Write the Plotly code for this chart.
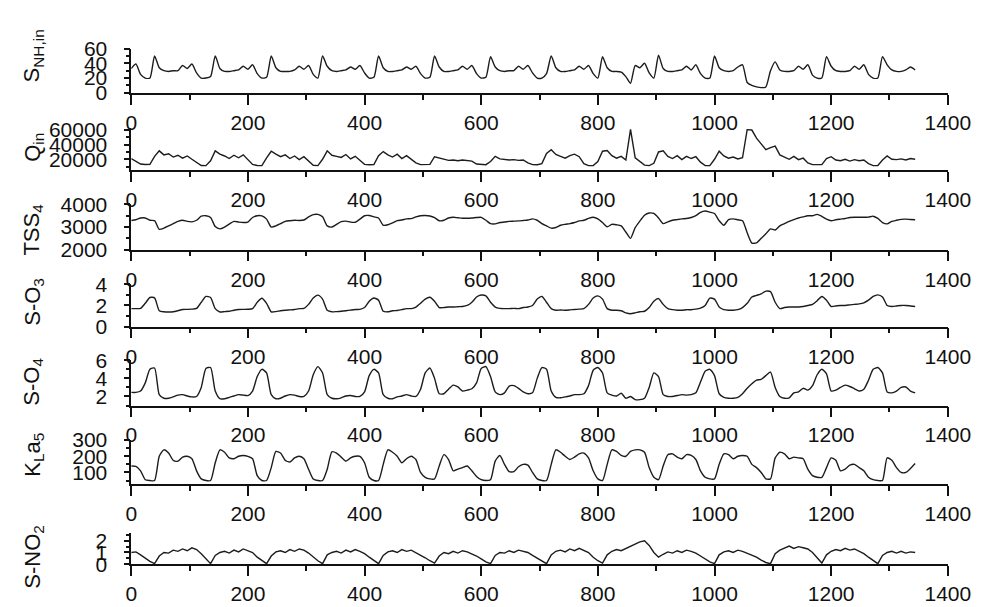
import plotly.graph_objects as go

# Sample times (one reading every 8 time steps, 0 .. 1344)
T = list(range(0, 1345, 8))

# Influent ammonium S_NH,in
S_NH = [
    33, 39, 25, 20, 20, 50, 34, 30, 29, 30, 30, 37,
    33, 39, 27, 20, 20, 22, 50, 33, 29, 29, 30, 31,
    36, 32, 38, 26, 20, 21, 50, 34, 29, 29, 29, 31,
    36, 32, 37, 25, 20, 50, 36, 30, 29, 30, 31, 35,
    32, 37, 27, 20, 21, 50, 34, 29, 29, 30, 31, 35,
    32, 36, 26, 20, 21, 50, 35, 29, 29, 30, 31, 36,
    32, 37, 26, 20, 21, 49, 35, 30, 29, 30, 30, 36,
    32, 37, 27, 20, 20, 26, 50, 34, 29, 29, 30, 31,
    36, 32, 37, 26, 20, 49, 34, 29, 29, 28, 22, 13,
    37, 34, 40, 27, 20, 51, 33, 29, 29, 30, 31, 36,
    31, 38, 26, 20, 20, 50, 34, 30, 29, 30, 35, 38,
    14, 10, 8, 7, 8, 30, 42, 31, 29, 29, 30, 36,
    32, 38, 24, 20, 20, 49, 36, 30, 29, 29, 30, 36,
    32, 38, 25, 20, 20, 49, 38, 31, 29, 29, 31, 35,
    31,
]

# Influent flow Q_in
Q_IN = [
    21000, 17000, 13500, 12800, 13000, 24000, 31500, 26000, 27500, 23000, 25500, 21500,
    24500, 20000, 16000, 11500, 11300, 18000, 31500, 27000, 24500, 21000, 25500, 22000,
    26000, 19000, 13000, 11500, 11300, 22000, 31000, 27000, 23500, 26000, 21000, 24500,
    19500, 23500, 17000, 11800, 11300, 20000, 31500, 25500, 24000, 22500, 26500, 20500,
    24000, 19000, 13000, 12500, 12600, 25000, 30500, 26000, 23000, 27000, 21000, 25000,
    20000, 15000, 12600, 12500, 13000, 23500, 22000, 19500, 18500, 19000, 18000, 19000,
    18500, 17500, 13500, 12600, 12600, 17000, 24000, 20500, 19500, 19000, 19500, 18500,
    19000, 15000, 12600, 12500, 14000, 28000, 33000, 26500, 24000, 21500, 25000, 27000,
    23500, 14000, 11300, 11500, 17000, 31000, 32000, 25000, 21500, 24000, 19000, 61000,
    22000, 16500, 12000, 11300, 14500, 30000, 31500, 24000, 21000, 25000, 19500, 24000,
    21000, 23500, 16000, 11500, 11300, 20000, 31000, 24500, 21500, 23000, 20500, 22000,
    60500, 60000, 49000, 41000, 33000, 36000, 38000, 26000, 23000, 20000, 24000, 19500,
    21500, 15000, 12600, 12500, 12700, 21000, 23500, 19000, 18000, 20000, 17500, 19500,
    18000, 19000, 14000, 11300, 11500, 19000, 24500, 20000, 19500, 20500, 19000, 21000,
    20000,
]

# Suspended solids in tank 4
TSS4 = [
    3290, 3320, 3400, 3400, 3300, 3280, 2900, 2950, 3050, 3150, 3250, 3300,
    3250, 3230, 3300, 3480, 3500, 3420, 3020, 2920, 3000, 3130, 3250, 3220,
    3200, 3220, 3420, 3500, 3490, 3350, 3000, 3050, 3150, 3250, 3280, 3300,
    3290, 3310, 3450, 3550, 3560, 3450, 3050, 3000, 3120, 3240, 3260, 3220,
    3210, 3350, 3500, 3510, 3450, 3400, 3080, 3100, 3180, 3280, 3310, 3360,
    3370, 3450, 3500, 3510, 3490, 3420, 3280, 3300, 3400, 3430, 3410, 3390,
    3390, 3400, 3420, 3430, 3300, 3150, 3140, 3200, 3220, 3250, 3260, 3270,
    3290, 3310, 3360, 3300, 3150, 3050, 2950, 2980, 3080, 3120, 3150, 3200,
    3270, 3300, 3380, 3430, 3360, 3200, 3010, 3120, 3100, 3050, 2780, 2500,
    2970, 3260, 3520, 3620, 3600, 3400, 3150, 3230, 3300, 3330, 3360, 3380,
    3420, 3500, 3650, 3710, 3660, 3600, 3280, 3080, 3330, 3360, 3320, 3280,
    2750, 2290, 2300, 2500, 2700, 2920, 2870, 3050, 3150, 3250, 3330, 3400,
    3450, 3500, 3500, 3560, 3470, 3350, 3280, 3320, 3350, 3380, 3420, 3430,
    3430, 3430, 3440, 3480, 3380, 3200, 3140, 3250, 3300, 3340, 3350, 3330,
    3320,
]

# Dissolved oxygen in tank 3
S_O3 = [
    1.70, 1.70, 1.72, 2.20, 2.75, 2.72, 1.50, 1.40, 1.38, 1.40, 1.50, 1.62,
    1.63, 1.65, 1.72, 2.30, 2.85, 2.75, 1.70, 1.38, 1.42, 1.45, 1.55, 1.62,
    1.63, 1.64, 1.70, 2.30, 2.68, 2.20, 1.40, 1.42, 1.50, 1.55, 1.58, 1.62,
    1.70, 1.72, 2.10, 2.70, 2.97, 2.60, 1.55, 1.40, 1.42, 1.45, 1.50, 1.56,
    1.62, 1.63, 1.80, 2.40, 2.70, 2.50, 1.45, 1.40, 1.50, 1.52, 1.60, 1.70,
    1.70, 1.85, 2.20, 2.60, 2.77, 2.40, 1.80, 1.80, 1.85, 1.85, 1.88, 1.90,
    2.00, 2.30, 2.80, 2.98, 2.90, 2.30, 1.85, 1.72, 1.70, 1.70, 1.72, 1.70,
    1.80, 1.85, 2.00, 2.60, 2.85, 2.30, 1.70, 1.55, 1.57, 1.55, 1.58, 1.62,
    1.65, 1.70, 2.10, 2.70, 2.90, 2.60, 1.70, 1.55, 1.55, 1.50, 1.30, 1.22,
    1.30, 1.40, 1.45, 1.80, 2.40, 2.65, 2.10, 1.70, 1.60, 1.55, 1.55, 1.60,
    1.60, 1.65, 1.75, 2.00, 2.70, 2.60, 1.85, 1.60, 1.55, 1.55, 1.60, 1.80,
    2.20, 2.80, 2.95, 3.10, 3.35, 3.30, 2.30, 1.70, 1.80, 1.85, 1.85, 1.85,
    1.90, 2.00, 2.10, 2.45, 2.85, 2.50, 1.90, 1.95, 2.00, 2.00, 2.05, 2.10,
    2.15, 2.25, 2.50, 2.85, 3.00, 2.80, 2.00, 1.90, 1.95, 2.00, 2.00, 1.95,
    1.90,
]

# Dissolved oxygen in tank 4
S_O4 = [
    2.45, 2.45, 2.60, 3.50, 5.00, 5.15, 2.20, 1.80, 1.80, 1.95, 2.15, 2.20,
    2.05, 1.95, 2.00, 3.00, 5.10, 5.20, 2.60, 1.75, 1.75, 1.90, 2.05, 2.20,
    2.15, 2.10, 2.60, 4.20, 5.00, 4.60, 2.20, 1.75, 1.80, 2.05, 2.20, 2.15,
    2.00, 2.00, 2.60, 4.40, 5.30, 4.60, 2.20, 1.80, 1.75, 1.85, 2.05, 2.10,
    2.00, 2.00, 2.50, 4.30, 5.00, 4.60, 2.20, 1.80, 1.75, 1.95, 2.05, 2.20,
    2.05, 2.00, 2.80, 4.60, 5.15, 4.00, 2.30, 2.30, 2.80, 3.25, 3.05, 2.60,
    2.70, 2.85, 3.50, 5.10, 5.30, 4.20, 2.50, 2.20, 2.40, 3.15, 3.20, 2.90,
    2.50, 2.30, 2.40, 4.00, 5.20, 5.00, 2.60, 1.90, 1.85, 1.95, 2.05, 2.20,
    2.20, 2.30, 3.20, 4.90, 5.20, 4.60, 2.40, 2.15, 2.05, 2.35, 1.80, 2.00,
    1.65, 1.65, 1.80, 3.00, 4.60, 4.20, 2.20, 2.00, 2.00, 2.10, 2.20, 2.15,
    2.20, 2.40, 3.60, 4.80, 5.00, 4.30, 2.30, 1.90, 1.80, 1.80, 1.90, 2.30,
    2.90, 3.40, 3.80, 3.90, 4.30, 4.70, 3.00, 2.00, 1.80, 1.85, 2.40, 2.50,
    2.90, 2.70, 3.20, 4.40, 5.00, 4.50, 2.60, 2.70, 3.00, 3.25, 3.10, 2.85,
    2.60, 2.80, 3.80, 5.00, 5.20, 4.60, 2.50, 2.40, 2.60, 3.00, 3.05, 2.60,
    2.40,
]

# Oxygen transfer coefficient in tank 5
KLA5 = [
    140, 138, 110, 55, 50, 50, 200, 240, 220, 175, 170, 195,
    200, 185, 110, 60, 50, 50, 160, 240, 225, 190, 185, 200,
    205, 200, 185, 80, 50, 50, 130, 230, 220, 175, 165, 190,
    200, 185, 120, 60, 50, 50, 120, 228, 220, 195, 170, 190,
    200, 200, 160, 70, 50, 50, 150, 240, 225, 200, 160, 185,
    200, 180, 100, 70, 60, 60, 140, 210, 180, 110, 120, 130,
    140, 110, 75, 55, 50, 55, 170, 205, 150, 105, 105, 135,
    150, 145, 100, 60, 50, 50, 150, 240, 225, 200, 180, 195,
    215, 220, 190, 110, 60, 50, 150, 240, 230, 205, 200, 230,
    240, 240, 225, 130, 70, 55, 140, 210, 215, 195, 185, 210,
    205, 180, 110, 70, 60, 60, 150, 215, 210, 185, 200, 205,
    200, 150, 130, 100, 60, 60, 190, 225, 215, 185, 195, 190,
    185, 120, 80, 70, 70, 130, 190, 175, 110, 120, 145, 150,
    130, 110, 70, 55, 50, 50, 190, 175, 130, 100, 100, 125,
    155,
]

# Nitrite/nitrate concentration
S_NO2 = [
    1.00, 1.05, 0.80, 0.50, 0.25, 0.05, 0.70, 1.00, 0.95, 1.20, 1.10, 1.30,
    1.15, 1.40, 1.25, 0.90, 0.45, 0.05, 0.75, 1.00, 1.10, 0.95, 1.20, 1.05,
    1.30, 1.15, 1.00, 0.60, 0.30, 0.05, 0.70, 1.05, 1.15, 1.00, 1.25, 1.10,
    1.30, 1.20, 0.95, 0.60, 0.30, 0.05, 0.80, 1.00, 1.10, 0.95, 1.20, 1.05,
    1.25, 1.10, 0.90, 0.60, 0.30, 0.05, 0.75, 1.05, 1.15, 1.00, 1.25, 1.10,
    1.20, 1.00, 0.80, 0.55, 0.30, 0.10, 0.70, 1.00, 0.90, 1.10, 0.95, 1.15,
    1.05, 0.90, 0.70, 0.45, 0.20, 0.05, 0.75, 1.00, 0.95, 1.15, 1.00, 1.20,
    1.10, 1.00, 0.75, 0.50, 0.25, 0.05, 0.80, 1.10, 1.20, 1.05, 1.30, 1.15,
    1.35, 1.20, 1.00, 0.60, 0.30, 0.10, 0.80, 1.10, 1.25, 1.15, 1.35, 1.50,
    1.70, 1.90, 2.00, 1.60, 1.00, 0.60, 0.85, 1.05, 0.95, 1.15, 1.00, 1.20,
    1.10, 0.95, 0.70, 0.45, 0.20, 0.05, 0.80, 1.05, 1.15, 1.00, 1.20, 1.10,
    0.95, 0.80, 0.60, 0.35, 0.15, 0.05, 0.90, 1.20, 1.40, 1.55, 1.35, 1.50,
    1.40, 1.30, 1.00, 0.55, 0.10, 0.80, 1.10, 1.25, 1.15, 1.35, 1.20, 1.30,
    1.10, 0.90, 0.60, 0.30, 0.05, 0.75, 1.00, 1.10, 0.95, 1.10, 0.95, 1.05,
    1.00,
]

FONT = "Liberation Sans, Arial, sans-serif"
INK = "#111111"
W, H = 998, 607

# Plot-area placement in pixels: x from axis origin to the 1400 tick,
# each panel given as (top, bottom) of its y axis.
X_PX = (129, 970)
PANEL_PX = [(38, 84), (121, 164), (200, 247), (283, 327), (362, 409), (445, 491), (541, 574)]
TITLE_CY = [46, 141, 226, 301, 384, 460, 566]

# series, title, y range, major step, minor step, tick format, smooth line
panels = [
    (S_NH, "S<sub>NH,in</sub>", [0, 60], 20, 10, None, True),
    (Q_IN, "Q<sub>in</sub>", [5600, 62200], 20000, 10000, "d", False),
    (TSS4, "TSS<sub>4</sub>", [2000, 4000], 1000, 500, "d", True),
    (S_O3, "S-O<sub>3</sub>", [0, 4], 2, 1, None, True),
    (S_O4, "S-O<sub>4</sub>", [1, 6], 2, 1, None, True),
    (KLA5, "K<sub>L</sub>a<sub>5</sub>", [26, 300], 100, 50, None, True),
    (S_NO2, "S-NO<sub>2</sub>", [0, 2.7], 1, 0.5, None, False),
]

fig = go.Figure()
xdom = [X_PX[0] / W, X_PX[1] / W]
layout = {}
annotations = []
tick_font = dict(family=FONT, size=21, color=INK)

for k, (vals, title, yr, dt, mdt, fmt, smooth) in enumerate(panels, start=1):
    assert len(vals) == len(T), (title, len(vals))
    xa = "x" if k == 1 else f"x{k}"
    ya = "y" if k == 1 else f"y{k}"
    line = dict(color="#1c1c1c", width=1.4)
    if smooth:
        line.update(shape="spline", smoothing=0.6)
    fig.add_trace(go.Scatter(
        x=T, y=vals, mode="lines", xaxis=xa, yaxis=ya,
        line=line, showlegend=False, hoverinfo="skip", cliponaxis=True,
    ))
    top, bot = PANEL_PX[k - 1]
    ydom = [1 - bot / H, 1 - top / H]
    layout[f"xaxis{k}"] = dict(
        domain=xdom, anchor=ya, range=[0, 1400],
        tickmode="array", tickvals=list(range(0, 1401, 200)),
        ticks="outside", ticklen=10, tickwidth=1.5, tickcolor=INK,
        minor=dict(dtick=100, tick0=0, ticks="outside", ticklen=5, tickwidth=1.5, tickcolor=INK),
        showline=True, linecolor=INK, linewidth=1.5, showgrid=False, zeroline=False,
        tickfont=tick_font,
    )
    ycfg = dict(
        domain=ydom, anchor=xa, range=yr, dtick=dt, tick0=0,
        ticks="outside", ticklen=6, tickwidth=1.5, tickcolor=INK,
        minor=dict(dtick=mdt, tick0=0, ticks="outside", ticklen=4, tickwidth=1.5, tickcolor=INK),
        showline=True, linecolor=INK, linewidth=1.5, showgrid=False, zeroline=False,
        tickfont=tick_font, ticklabelstandoff=12,
    )
    if fmt:
        ycfg["tickformat"] = fmt
    layout[f"yaxis{k}"] = ycfg
    annotations.append(dict(
        text=title, xref="paper", yref="paper", x=28 / W, y=1 - TITLE_CY[k - 1] / H,
        xanchor="center", yanchor="middle", textangle=-90, showarrow=False,
        font=dict(family=FONT, size=22, color=INK),
    ))

fig.update_layout(
    width=W, height=H, margin=dict(l=0, r=0, t=0, b=0),
    paper_bgcolor="white", plot_bgcolor="white",
    annotations=annotations, **layout,
)

fig.write_html("out.html")
